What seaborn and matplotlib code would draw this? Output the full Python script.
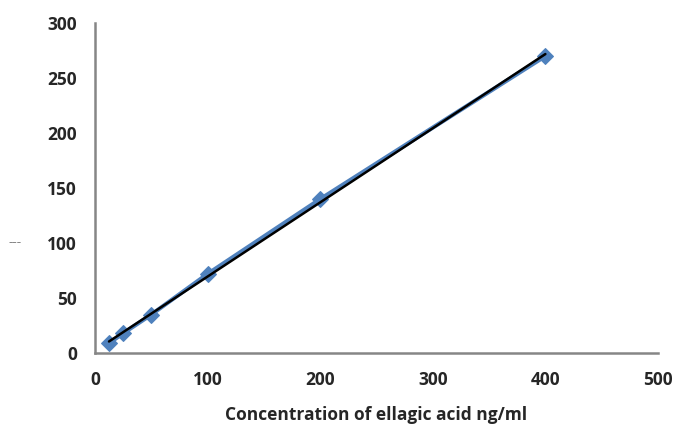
import numpy as np
import pandas as pd
import seaborn as sns
import matplotlib
matplotlib.use("Agg")
import matplotlib.pyplot as plt

# calibration data
concentration = [12.5, 25, 50, 100, 200, 400]
response = [9, 18, 35, 72, 140, 270]
x_ticks = [0, 100, 200, 300, 400, 500]
y_ticks = [0, 50, 100, 150, 200, 250, 300]

df = pd.DataFrame({"conc": concentration, "resp": response})

sns.set_style("white")
plt.rcParams["font.family"] = ["Open Sans", "DejaVu Sans"]

fig = plt.figure(figsize=(6.78, 4.36), dpi=100)
ax = fig.add_axes([0.140, 0.190, 0.8305, 0.757])

blue = "#4f81bd"
sns.lineplot(data=df, x="conc", y="resp", ax=ax, color=blue, linewidth=3,
             marker="D", markersize=8, markeredgecolor=blue)

# linear trendline
slope, intercept = np.polyfit(df["conc"], df["resp"], 1)
xs = np.array([df["conc"].min(), df["conc"].max()])
ax.plot(xs, slope * xs + intercept, color="black", linewidth=1.8)

ax.set_xlim(0, 500)
ax.set_ylim(0, 300)
ax.set_xticks(x_ticks)
ax.set_yticks(y_ticks)
ax.tick_params(axis="both", direction="out", length=5, width=1.5,
               color="#868686", labelsize=12.5, pad=8)
for lab in ax.get_xticklabels() + ax.get_yticklabels():
    lab.set_fontweight("bold")

for side in ["top", "right"]:
    ax.spines[side].set_visible(False)
for side in ["left", "bottom"]:
    ax.spines[side].set_color("#868686")
    ax.spines[side].set_linewidth(1.8)

ax.set_xlabel("Concentration of ellagic acid ng/ml", fontsize=12.5,
              fontweight="bold", labelpad=12)
ax.set_ylabel("")
fig.text(0.013, 0.443, "---", color="#888888", fontsize=10, va="center")

fig.savefig("out.png", dpi=100)
